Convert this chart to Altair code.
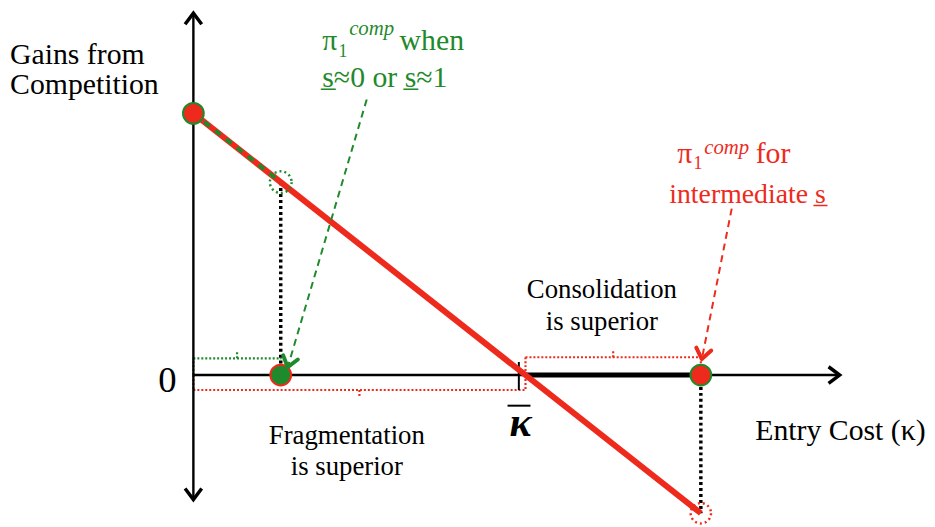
import altair as alt
import pandas as pd

# ---- model values (abstract units) ----
intercept = 1.0          # gains from competition at zero entry cost
kappa_bar = 1.0          # threshold entry cost
kappa_extreme = 0.263    # pi1 comp when s≈0 or s≈1
kappa_mid = 1.528        # pi1 comp for intermediate s
x_axis_end = 1.94
y_axis_top = 1.375
y_axis_bottom = -0.468

XMIN, XMAX = -0.5582, 2.2090
YMIN, YMAX = -0.5720, 1.3939

RED = "#ee2a1c"
GREEN = "#1f8a2c"
SERIF = "Liberation Serif"


def line_y(k):
    return intercept * (1 - k / kappa_bar)


def X(f="x"):
    return alt.X(f"{f}:Q", scale=alt.Scale(domain=[XMIN, XMAX], nice=False, zero=False), axis=None)


def Y(f="y"):
    return alt.Y(f"{f}:Q", scale=alt.Scale(domain=[YMIN, YMAX], nice=False, zero=False), axis=None)


def segs(rows, **mk):
    df = pd.DataFrame(rows, columns=["x", "y", "x2", "y2"])
    return alt.Chart(df).mark_rule(**mk).encode(
        x=X("x"), y=Y("y"), x2=alt.X2("x2"), y2=alt.Y2("y2"))


# axes
axes = segs([[0, y_axis_bottom, 0, y_axis_top], [0, 0, x_axis_end, 0]],
            color="black", strokeWidth=2.4)

chev = "M -1 -0.75 L 0 0 L -1 0.75"
arrow_df = pd.DataFrame({"x": [0, 0, x_axis_end + 0.006],
                         "y": [y_axis_top + 0.008, y_axis_bottom - 0.008, 0],
                         "a": [270, 90, 0]})
axis_arrows = alt.Chart(arrow_df).mark_point(
    shape=chev, filled=False, stroke="black", strokeWidth=3.5, size=500,
    strokeJoin="miter", opacity=1).encode(x=X(), y=Y(), angle=alt.Angle("a:Q", scale=None))

# thick black segment (consolidation region)
thick = segs([[kappa_bar, 0, kappa_mid, 0]], color="black", strokeWidth=5)

# brackets
gb_y, rb_y, rr_y = 0.064, -0.057, 0.068
green_br = segs([[0, gb_y, kappa_extreme, gb_y], [0, 0, 0, gb_y],
                 [kappa_extreme, 0, kappa_extreme, gb_y],
                 [kappa_extreme / 2, gb_y, kappa_extreme / 2, gb_y + 0.03]],
                color=GREEN, strokeWidth=2.2, strokeDash=[2, 2])
red_br = segs([[0, rb_y, kappa_bar, rb_y], [0, 0, 0, rb_y], [kappa_bar, 0, kappa_bar, rb_y],
               [kappa_bar / 2, rb_y, kappa_bar / 2, rb_y - 0.03],
               [kappa_bar, rr_y, kappa_mid, rr_y], [kappa_bar, 0, kappa_bar, rr_y],
               [kappa_mid, 0, kappa_mid, rr_y],
               [(kappa_bar + kappa_mid) / 2, rr_y, (kappa_bar + kappa_mid) / 2, rr_y + 0.03]],
              color=RED, strokeWidth=2.2, strokeDash=[2, 2])
kb_tick = segs([[kappa_bar - 0.02, 0.05, kappa_bar - 0.02, -0.057]], color="black", strokeWidth=2)

# black dotted drop lines
drops = segs([[kappa_extreme, line_y(kappa_extreme), kappa_extreme, 0],
              [kappa_mid, 0, kappa_mid, line_y(kappa_mid)]],
             color="black", strokeWidth=3.5, strokeDash=[3, 3])

# red line and green dashed overlay
red_line = segs([[0, intercept, kappa_mid, line_y(kappa_mid)]], color=RED, strokeWidth=6)
green_overlay = segs([[0, intercept, kappa_extreme, line_y(kappa_extreme)]],
                     color=GREEN, strokeWidth=4, strokeDash=[7, 7])

# dotted circles
dc_g = alt.Chart(pd.DataFrame({"x": [kappa_extreme], "y": [line_y(kappa_extreme)]})).mark_point(
    shape="circle", filled=False, stroke=GREEN, strokeWidth=2.5, strokeDash=[2, 3],
    size=480, opacity=1).encode(x=X(), y=Y())
dc_r = alt.Chart(pd.DataFrame({"x": [kappa_mid], "y": [line_y(kappa_mid)]})).mark_point(
    shape="circle", filled=False, stroke=RED, strokeWidth=2.5, strokeDash=[2, 3],
    size=420, opacity=1).encode(x=X(), y=Y())

# dots
dots_df = pd.DataFrame({"x": [0, kappa_mid], "y": [intercept, 0]})
red_dots = alt.Chart(dots_df).mark_point(shape="circle", filled=True, fill=RED, stroke=GREEN,
                                         strokeWidth=2, size=440, opacity=1).encode(x=X(), y=Y())
green_dot = alt.Chart(pd.DataFrame({"x": [kappa_extreme], "y": [0]})).mark_point(
    shape="circle", filled=True, fill=GREEN, stroke=RED, strokeWidth=2, size=440,
    opacity=1).encode(x=X(), y=Y())

# dashed annotation arrows
g_arrow = segs([[0.522, 1.053, 0.284, 0.03]], color=GREEN, strokeWidth=2, strokeDash=[7, 5])
r_arrow = segs([[1.621, 0.636, 1.531, 0.061]], color=RED, strokeWidth=2, strokeDash=[7, 5])
ah = pd.DataFrame({"x": [0.284, 1.531], "y": [0.03, 0.061], "a": [106, 101], "c": [GREEN, RED]})
arrow_heads = alt.Chart(ah).mark_point(shape=chev, filled=False, strokeWidth=4, size=420,
                                       strokeJoin="round", strokeCap="round", opacity=1).encode(
    x=X(), y=Y(), angle=alt.Angle("a:Q", scale=None), stroke=alt.Stroke("c:N", scale=None))


def texts(rows, **mk):
    df = pd.DataFrame(rows, columns=["x", "y", "t"])
    return alt.Chart(df).mark_text(font=SERIF, baseline="alphabetic", **mk).encode(
        x=X(), y=Y(), text="t:N")


t_gains = texts([[-0.552, 1.189, "Gains from"], [-0.552, 1.072, "Competition"]],
                align="left", fontSize=30, color="black")
t_zero = texts([[-0.078, -0.064, "0"]], align="center", fontSize=37, color="black")
t_cons = texts([[1.230, 0.295, "Consolidation"], [1.230, 0.174, "is superior"]],
               align="center", fontSize=27, color="black")
t_frag = texts([[0.462, -0.265, "Fragmentation"], [0.462, -0.383, "is superior"]],
               align="center", fontSize=27, color="black")
t_entry = texts([[1.692, -0.25, "Entry Cost (κ)"]], align="left", fontSize=30, color="black")
t_kb = texts([[0.985, -0.231, "κ"]], align="center", fontSize=42, fontWeight="bold",
             fontStyle="italic", color="black")
kb_bar = segs([[0.946, -0.117, 1.015, -0.117]], color="black", strokeWidth=2)

g_pi = texts([[0.388, 1.242, "π"], [0.621, 1.242, "when"], [0.388, 1.102, "s̲≈0 or s̲≈1"]],
             align="left", fontSize=30, color=GREEN)
g_sub = texts([[0.437, 1.216, "1"]], align="left", fontSize=18, color=GREEN)
g_sup = texts([[0.469, 1.299, "comp"]], align="left", fontSize=21, fontStyle="italic", color=GREEN)

r_pi = texts([[1.457, 0.811, "π"], [1.693, 0.811, "for"]],
             align="left", fontSize=30, color=RED)
r_line2 = texts([[1.433, 0.659, "intermediate s̲"]], align="left", fontSize=28, color=RED)
r_sub = texts([[1.506, 0.788, "1"]], align="left", fontSize=18, color=RED)
r_sup = texts([[1.538, 0.845, "comp"]], align="left", fontSize=21, fontStyle="italic", color=RED)

chart = alt.layer(
    green_br, red_br, kb_tick, drops, axes, axis_arrows, thick, red_line, green_overlay,
    dc_g, dc_r, red_dots, green_dot, g_arrow, r_arrow, arrow_heads,
    t_gains, t_zero, t_cons, t_frag, t_entry, t_kb, kb_bar,
    g_pi, g_sub, g_sup, r_pi, r_line2, r_sub, r_sup,
).properties(
    width=927, height=519, padding=0,
    autosize=alt.AutoSizeParams(type="none"),
).configure_view(stroke=None)

chart.save("out.html", embed_options={"renderer": "svg", "actions": False})
